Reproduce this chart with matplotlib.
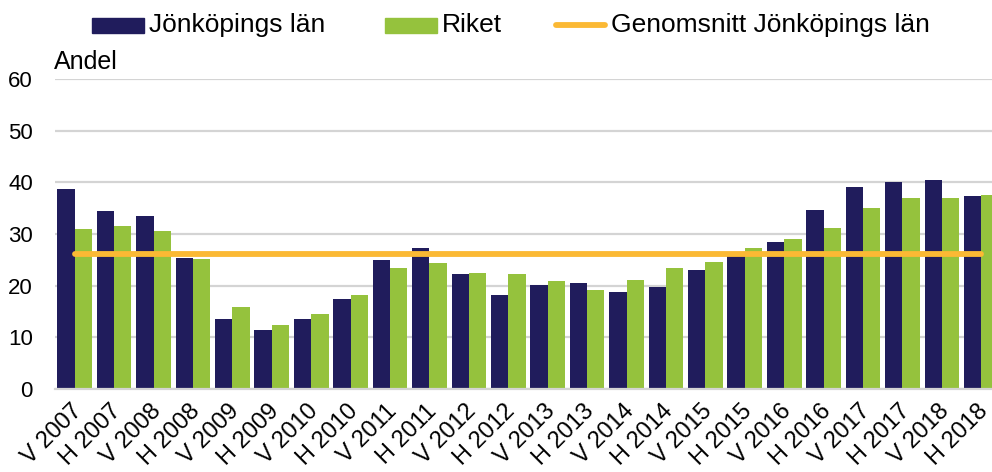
import matplotlib.pyplot as plt
from matplotlib.patches import Rectangle
from matplotlib.lines import Line2D
import matplotlib.transforms as mtransforms
import numpy as np

plt.rcParams['font.family'] = ['Liberation Sans', 'DejaVu Sans']

perioder = ['V 2007', 'H 2007', 'V 2008', 'H 2008', 'V 2009', 'H 2009',
            'V 2010', 'H 2010', 'V 2011', 'H 2011', 'V 2012', 'H 2012',
            'V 2013', 'H 2013', 'V 2014', 'H 2014', 'V 2015', 'H 2015',
            'V 2016', 'H 2016', 'V 2017', 'H 2017', 'V 2018', 'H 2018']
jonkoping = [38.8, 34.5, 33.4, 25.4, 13.6, 11.4, 13.6, 17.4, 24.9, 27.2, 22.3, 18.1,
             20.2, 20.6, 18.8, 19.7, 23.0, 26.0, 28.5, 34.6, 39.1, 40.1, 40.4, 37.4]
riket = [30.9, 31.5, 30.6, 25.1, 15.9, 12.3, 14.5, 18.2, 23.5, 24.4, 22.5, 22.3,
         21.0, 19.2, 21.1, 23.4, 24.6, 27.3, 29.1, 31.2, 35.0, 36.9, 37.0, 37.5]
snitt_jonkoping = 26.1

navy = '#201c5c'
green = '#95c23d'
orange = '#fbb934'

fig = plt.figure(figsize=(9.92, 4.72), dpi=100)
ax = fig.add_axes([55/992, 83/472, 946/992, 310/472])

x = np.arange(len(perioder))
w = 0.44
ax.bar(x - w/2, jonkoping, w, color=navy, zorder=2)
ax.bar(x + w/2, riket, w, color=green, zorder=2)
ax.plot([x[0], x[-1]], [snitt_jonkoping]*2, color=orange, lw=4.2,
        solid_capstyle='round', zorder=3)

ax.set_xlim(-0.5, len(perioder) - 0.5)
ax.set_ylim(0, 60)
ax.set_yticks(range(0, 61, 10))
ax.yaxis.grid(True, color='#d4d4d4', lw=1.6, zorder=0)
ax.set_axisbelow(True)
for s in ['top', 'right', 'left']:
    ax.spines[s].set_visible(False)
ax.spines['bottom'].set_color('#d4d4d4')
ax.spines['bottom'].set_linewidth(1.6)
ax.tick_params(axis='y', length=0, pad=16, labelsize=16)
ax.tick_params(axis='x', length=0, pad=6)
ax.set_xticks(x)
ax.set_xticklabels(perioder, rotation=45, ha='right', va='top',
                   rotation_mode='anchor', fontsize=17)
shift = mtransforms.ScaledTranslation(-4/100, -3/100, fig.dpi_scale_trans)
for lbl in ax.get_xticklabels():
    lbl.set_transform(lbl.get_transform() + shift)

fig.text(54/992, 1 - 69/472, 'Andel', fontsize=18, va='baseline', ha='left')

# legend drawn by hand at the top
ly = 1 - 25/472
fig.patches.append(Rectangle((92/992, 1 - 33/472), 52/992, 15/472,
                             transform=fig.transFigure, color=navy))
fig.text(149/992, ly, 'Jönköpings län', fontsize=19, va='center', ha='left')
fig.patches.append(Rectangle((385/992, 1 - 33/472), 52/992, 15/472,
                             transform=fig.transFigure, color=green))
fig.text(442/992, ly, 'Riket', fontsize=19, va='center', ha='left')
fig.lines.append(Line2D([556/992, 605/992], [ly, ly], transform=fig.transFigure,
                        color=orange, lw=4.2, solid_capstyle='round'))
fig.text(611/992, ly, 'Genomsnitt Jönköpings län', fontsize=19, va='center', ha='left')

fig.savefig('out.png', dpi=100)
